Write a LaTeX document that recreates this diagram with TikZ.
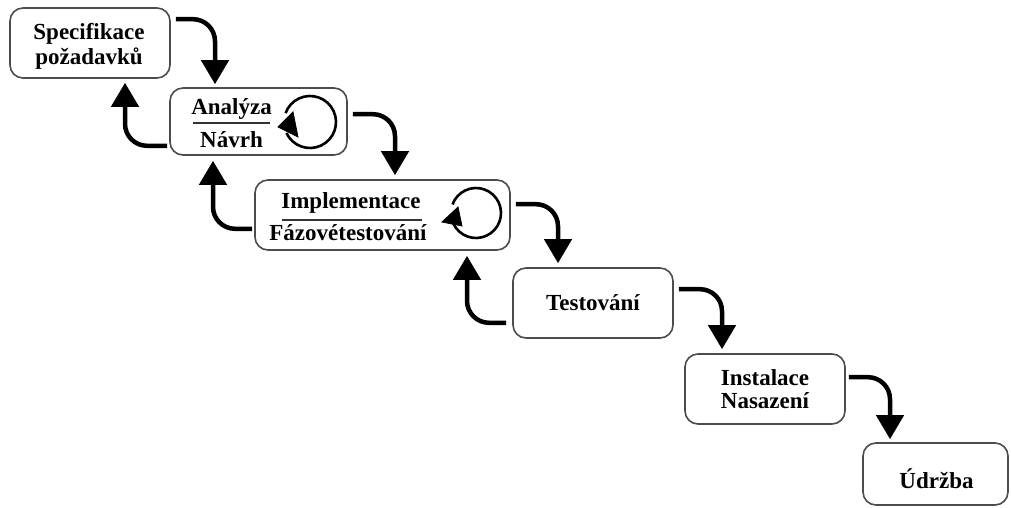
\documentclass[tikz,border=0pt]{standalone}
\usepackage{fontspec}
\setmainfont{Liberation Serif}
\usetikzlibrary{arrows.meta}
\tikzset{
  phase/.style={draw=black!70, line width=1.6pt, rounded corners=13pt, fill=white, inner sep=0pt},
  lbl/.style={anchor=base, inner sep=0pt, font=\fontsize{23}{24}\selectfont\bfseries},
  flow/.style={line width=4.5pt, rounded corners=22pt, -{Triangle[width=27pt,length=24pt]}},
  cycle/.style={line width=2.6pt},
  cyclehead/.style={fill=black, draw=black, line width=0.8pt, line join=miter},
  divider/.style={line width=1.4pt, draw=black!80}
}
\begin{document}
\begin{tikzpicture}[x=1pt,y=1pt]
\useasboundingbox (0,0) rectangle (1011,-508);

% phase boxes
\node[phase, minimum width=160pt, minimum height=70pt] (s) at (90,-43) {};
\node[phase, minimum width=177pt, minimum height=67pt] (a) at (258.5,-121.5) {};
\node[phase, minimum width=255pt, minimum height=70pt] (i) at (382.5,-215) {};
\node[phase, minimum width=160pt, minimum height=70pt] (t) at (593,-303) {};
\node[phase, minimum width=160pt, minimum height=70pt] (n) at (765,-389) {};
\node[phase, minimum width=145pt, minimum height=62pt] (u) at (935.5,-474) {};

% labels
\node[lbl] (s1) at (89,-40) {Specifikace};
\node[lbl] (s2) at (89,-65) {požadavků};
\node[lbl] (a1) at (231.5,-115) {Analýza};
\node[lbl] (a2) at (231.5,-147) {Návrh};
\node[lbl] (i1) at (351,-208) {Implementace};
\node[lbl] (i2) at (348,-240) {Fázovétestování};
\node[lbl] (t1) at (593,-310) {Testování};
\node[lbl] (n1) at (765,-385) {Instalace};
\node[lbl] (n2) at (765,-408) {Nasazení};
\node[lbl] (u1) at (936.5,-488) {Údržba};

% dividing rules between the paired activities
\draw[divider] (193,-123) -- (270,-123);
\draw[divider] (282,-220) -- (422,-220);

% iteration loops inside the paired phases
\draw[cycle] (310,-122) ++(205:26) arc[start angle=205, end angle=520, radius=26];
\filldraw[cyclehead] (278,-127) -- (293,-112) -- (298,-137) -- cycle;
\draw[cycle] (476,-213) ++(205:25) arc[start angle=205, end angle=520, radius=25];
\filldraw[cyclehead] (442,-222) -- (458,-207) -- (462,-226) -- cycle;

% forward flow
\draw[flow] ([xshift=5pt,yshift=-12pt]s.north east) -| ([xshift=-43.5pt,yshift=3pt]a.north);
\draw[flow] ([xshift=5pt,yshift=-27pt]a.north east) -| ([xshift=12.5pt,yshift=4pt]i.north);
\draw[flow] ([xshift=5pt,yshift=-25pt]i.north east) -| ([xshift=-35pt,yshift=4pt]t.north);
\draw[flow] ([xshift=5pt,yshift=-22pt]t.north east) -| ([xshift=-43pt,yshift=4pt]n.north);
\draw[flow] ([xshift=3pt,yshift=-24pt]n.north east) -| ([xshift=-45.5pt,yshift=3pt]u.north);

% feedback flow
\draw[flow] ([xshift=-2pt,yshift=10pt]a.south west) -| ([xshift=35pt,yshift=-4pt]s.south);
\draw[flow] ([xshift=-2pt,yshift=22pt]i.south west) -| ([xshift=-45.5pt,yshift=-5pt]a.south);
\draw[flow] ([xshift=-6pt,yshift=16pt]t.south west) -| ([xshift=84.5pt,yshift=-5pt]i.south);
\end{tikzpicture}
\end{document}
